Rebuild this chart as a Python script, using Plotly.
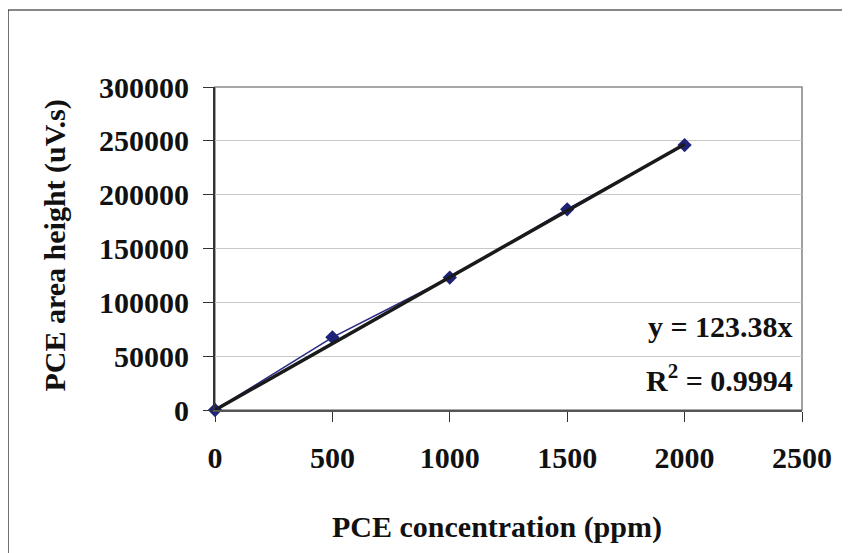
import plotly.graph_objects as go

# Data
conc_ppm = [0, 500, 1000, 1500, 2000]
area_height = [0, 67500, 123000, 186400, 246100]
slope = 123.38
trend_x = [0, 2000]
eq_text = "y = 123.38x"
r2_text = "R<sup>2</sup> = 0.9994"
x_ticks = [0, 500, 1000, 1500, 2000, 2500]
y_ticks = [0, 50000, 100000, 150000, 200000, 250000, 300000]
x_title = "PCE concentration (ppm)"
y_title = "PCE area height (uV.s)"

W, H = 850, 553
OFF = 8  # page body margin offset
# target plot area in window pixels: x 215-802, y 87-410
L = 215 - OFF
T = 87 - OFF
pw, ph = 587, 323
R = W - L - pw
B = H - T - ph

def px(x):
    return (x - OFF - L) / pw

def py(y):
    return (T + ph - (y - OFF)) / ph

FONT = "Liberation Serif, Times New Roman, serif"

fig = go.Figure()

fig.add_trace(go.Scatter(
    x=conc_ppm, y=area_height, mode="lines+markers",
    line=dict(color="#2a2a8a", width=1.6),
    marker=dict(symbol="diamond", size=11, color="#1f2378"),
    showlegend=False, cliponaxis=False,
))
fig.add_trace(go.Scatter(
    x=trend_x, y=[slope * v for v in trend_x], mode="lines",
    line=dict(color="#1a1a1a", width=3.5),
    showlegend=False, cliponaxis=False,
))

axis_font = dict(family=FONT, size=30, color="#111111")

fig.update_layout(
    width=W, height=H,
    margin=dict(l=L, r=R, t=T, b=B, pad=0),
    paper_bgcolor="white", plot_bgcolor="rgba(0,0,0,0)",
    font=dict(family=FONT, color="#111111"),
    xaxis=dict(
        range=[0, 2500], tickvals=x_ticks, ticktext=[str(v) for v in x_ticks],
        showgrid=False, zeroline=False,
        showline=True, linecolor="#555555", linewidth=2,
        ticks="outside", ticklen=10, tickwidth=1.3, tickcolor="#333333",
        tickfont=dict(**axis_font, weight="bold"), ticklabelstandoff=10,
    ),
    yaxis=dict(
        range=[0, 300000], tickvals=y_ticks, ticktext=[str(v) for v in y_ticks],
        showgrid=True, gridcolor="#c8c8c8", gridwidth=1, zeroline=False,
        showline=True, linecolor="#333333", linewidth=2,
        ticks="outside", ticklen=10, tickwidth=1.3, tickcolor="#333333",
        tickfont=dict(**axis_font, weight="bold"), ticklabelstandoff=8,
    ),
    shapes=[
        # chart area border (extends beyond the right/bottom edges)
        dict(type="rect", xref="paper", yref="paper",
             x0=px(8), x1=px(W + 30), y0=py(H + 30), y1=py(10),
             line=dict(color="#111111", width=1.2), layer="below"),
        # plot area border
        dict(type="rect", xref="paper", yref="paper",
             x0=0, x1=1, y0=0, y1=1,
             line=dict(color="#8a8a8a", width=1.6), layer="below"),
    ],
    annotations=[
        dict(text=f"<b>{y_title}</b>", xref="paper", yref="paper",
             x=px(54), y=py(245.5), textangle=-90, showarrow=False,
             font=dict(family=FONT, size=30, color="#111111"),
             xanchor="center", yanchor="middle"),
        dict(text=f"<b>{x_title}</b>", xref="paper", yref="paper",
             x=px(497), y=py(527), showarrow=False,
             font=dict(family=FONT, size=30, color="#111111"),
             xanchor="center", yanchor="middle"),
        dict(text=f"<b>{eq_text}</b>", xref="paper", yref="paper",
             x=px(795), y=py(326), showarrow=False,
             font=dict(family=FONT, size=30, color="#111111"),
             xanchor="right", yanchor="middle"),
        dict(text=f"<b>{r2_text}</b>", xref="paper", yref="paper",
             x=px(795), y=py(378), showarrow=False,
             font=dict(family=FONT, size=30, color="#111111"),
             xanchor="right", yanchor="middle"),
    ],
)

fig.write_html("out.html")
